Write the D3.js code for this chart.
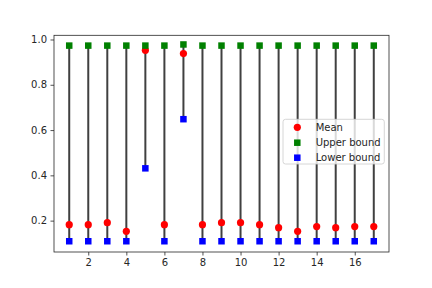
<!DOCTYPE html>
<html><head><meta charset="utf-8">
<script src="https://cdn.jsdelivr.net/npm/d3@7"></script>
<style>body{margin:0;background:#fff}svg{display:block}text{font-family:"DejaVu Sans",sans-serif}</style>
</head><body><svg id="c" width="432" height="288"></svg>
<script>
const xs = [1,2,3,4,5,6,7,8,9,10,11,12,13,14,15,16,17];
const means = [0.182,0.182,0.191,0.153,0.952,0.182,0.938,0.182,0.191,0.191,0.182,0.169,0.153,0.174,0.169,0.174,0.174];
const upper = [0.973,0.973,0.973,0.973,0.973,0.973,0.978,0.973,0.973,0.973,0.973,0.973,0.973,0.973,0.973,0.973,0.973];
const lower = [0.109,0.109,0.109,0.109,0.431,0.109,0.648,0.109,0.109,0.109,0.109,0.109,0.109,0.109,0.109,0.109,0.109];
const xTicks = [2,4,6,8,10,12,14,16];
const yTicks = [0.2,0.4,0.6,0.8,1.0];
const legendLabels = ["Mean","Upper bound","Lower bound"];

const svg = d3.select("#c");
const L=54, R=389, T=35.3, B=252;
const x = d3.scaleLinear().domain([0.2,17.8]).range([L,R]);
const y = d3.scaleLinear().domain([0.0615,1.0185]).range([B,T]);

// vlines
svg.append("g").selectAll("line").data(xs).join("line")
  .attr("x1",d=>x(d)).attr("x2",d=>x(d))
  .attr("y1",(d,i)=>y(lower[i])).attr("y2",(d,i)=>y(upper[i]))
  .attr("stroke","#404040").attr("stroke-width",2);

const sq = 6.5;
svg.append("g").selectAll("circle").data(xs).join("circle")
  .attr("cx",d=>x(d)).attr("cy",(d,i)=>y(means[i])).attr("r",3.6).attr("fill","#ff0000");
svg.append("g").selectAll("rect").data(xs).join("rect")
  .attr("x",d=>x(d)-sq/2).attr("y",(d,i)=>y(upper[i])-sq/2).attr("width",sq).attr("height",sq).attr("fill","#008000");
svg.append("g").selectAll("rect").data(xs).join("rect")
  .attr("x",d=>x(d)-sq/2).attr("y",(d,i)=>y(lower[i])-sq/2).attr("width",sq).attr("height",sq).attr("fill","#0000ff");

// axes
const xa = svg.append("g").attr("transform",`translate(0,${B})`)
  .call(d3.axisBottom(x).tickValues(xTicks).tickFormat(d3.format("d")).tickSize(3.5).tickPadding(3.5));
const ya = svg.append("g").attr("transform",`translate(${L},0)`)
  .call(d3.axisLeft(y).tickValues(yTicks).tickFormat(d3.format(".1f")).tickSize(3.5).tickPadding(3.5));
[xa,ya].forEach(a=>{a.select(".domain").remove();a.selectAll("text").attr("font-size",10).attr("fill","#262626").style("font-family","DejaVu Sans");a.selectAll("line").attr("stroke","#262626").attr("stroke-width",0.8);});
svg.append("rect").attr("x",L).attr("y",T).attr("width",R-L).attr("height",B-T)
  .attr("fill","none").attr("stroke","#262626").attr("stroke-width",0.8);

// legend
const lg = svg.append("g");
lg.append("rect").attr("x",283).attr("y",119.3).attr("width",101.3).attr("height",44.7).attr("rx",2.5)
  .attr("fill","rgba(255,255,255,0.8)").attr("stroke","#cccccc").attr("stroke-width",0.8);
const rows=[127.3,142.7,157.7];
lg.append("circle").attr("cx",297.3).attr("cy",rows[0]).attr("r",3.6).attr("fill","#ff0000");
lg.append("rect").attr("x",297.3-sq/2).attr("y",rows[1]-sq/2).attr("width",sq).attr("height",sq).attr("fill","#008000");
lg.append("rect").attr("x",297.3-sq/2).attr("y",rows[2]-sq/2).attr("width",sq).attr("height",sq).attr("fill","#0000ff");
lg.selectAll("text").data(legendLabels).join("text")
  .attr("x",315.7).attr("y",(d,i)=>rows[i]).attr("dy","0.35em").attr("font-size",10).attr("fill","#262626").text(d=>d);
</script></body></html>
